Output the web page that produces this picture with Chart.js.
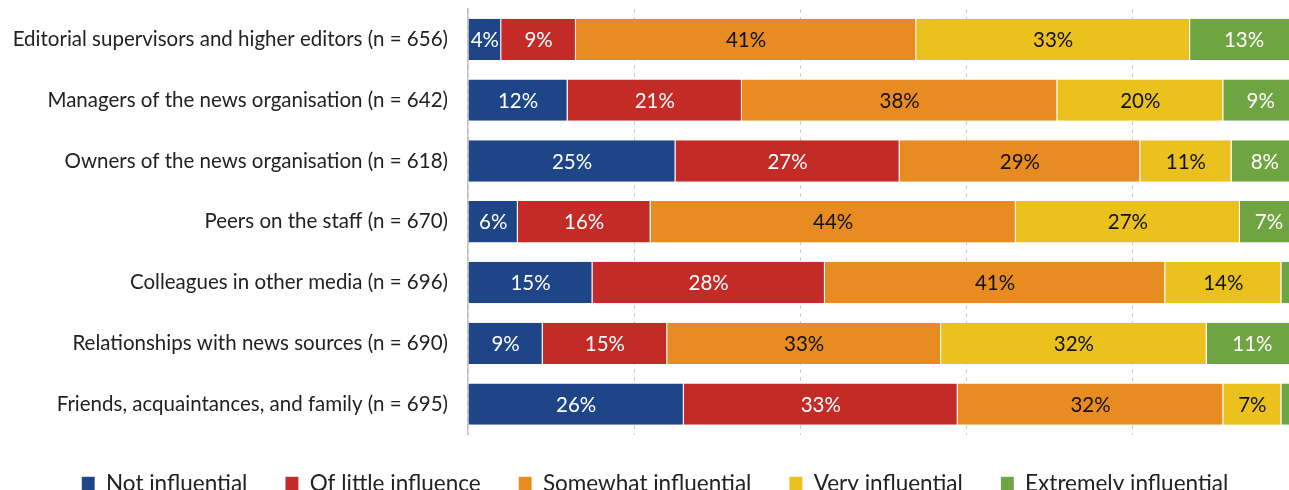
<!DOCTYPE html>
<html>
<head>
<meta charset="utf-8">
<script src="https://cdn.jsdelivr.net/npm/chart.js@4"></script>
<style>
	html, body { margin: 0; padding: 0; background: #fff; overflow: hidden; }
	#wrap { width: 1300px; height: 505px; }
</style>
</head>
<body>
<div id="wrap"><canvas id="influenceChart"></canvas></div>
<script>
const sources = [
	"Editorial supervisors and higher editors (n = 656)",
	"Managers of the news organisation (n = 642)",
	"Owners of the news organisation (n = 618)",
	"Peers on the staff (n = 670)",
	"Colleagues in other media (n = 696)",
	"Relationships with news sources (n = 690)",
	"Friends, acquaintances, and family (n = 695)"
]
const notInfluential = [4, 12, 25, 6, 15, 9, 26]
const littleInfluence = [9, 21, 27, 16, 28, 15, 33]
const somewhatInfluential = [41, 38, 29, 44, 41, 33, 32]
const veryInfluential = [33, 20, 11, 27, 14, 32, 7]
const extremelyInfluential = [13, 9, 8, 7, 2, 11, 2]

const seriesNames = ["Not influential", "Of little influence", "Somewhat influential", "Very influential", "Extremely influential"]
const seriesColors = ["#1f4589", "#c52b26", "#e88c22", "#ebc11e", "#6fa443"]
const textColors = ["#fff", "#fff", "#111", "#111", "#fff"]

const FONT = "Lato, 'Open Sans', sans-serif"

// percent text in the middle of each segment, skipped when the slice is too thin
const segmentLabels = {
	id: "segmentLabels",
	afterDatasetsDraw(chart) {
		const ctx = chart.ctx
		ctx.save()
		ctx.font = "20.5px " + FONT
		ctx.textAlign = "center"
		ctx.textBaseline = "middle"
		chart.data.datasets.forEach((ds, i) => {
			chart.getDatasetMeta(i).data.forEach((bar, j) => {
				const v = ds.data[j]
				if (v < 4) return
				const { x, y, base } = bar.getProps(["x", "y", "base"], true)
				ctx.fillStyle = textColors[i]
				ctx.fillText(v + "%", (x + base) / 2, y + 1)
			})
		})
		ctx.restore()
	}
}

function createStackedChart(labels, series, place) {
	const ctx = place.getContext("2d")

	new Chart(ctx, {
		type: "bar",
		data: {
			labels: labels,
			datasets: series.map((data, i) => ({
				label: seriesNames[i],
				data: data,
				backgroundColor: seriesColors[i],
				borderColor: "rgba(255,255,255,0.55)",
				borderWidth: { right: 1 },
				borderSkipped: "start",
				categoryPercentage: 1,
				barPercentage: 0.68,
			})),
		},
		options: {
			indexAxis: "y",
			responsive: true,
			maintainAspectRatio: false,
			animation: false,
			layout: {
				padding: { top: 9, right: 2, left: 12, bottom: 0 }
			},
			scales: {
				x: {
					stacked: true,
					min: 0,
					max: 100,
					ticks: { display: false, stepSize: 20 },
					grid: { color: "#cfcfcf", drawTicks: false },
					border: { display: false, dash: [4, 4] },
					afterFit(scale) { scale.height = 0 }
				},
				y: {
					stacked: true,
					grid: { display: false, drawTicks: false },
					border: { color: "#c4c4c4", width: 1.5 },
					ticks: {
						color: "#222",
						font: { family: FONT, size: 20.5 },
						padding: 20,
					},
					afterFit(scale) {
						// fixed gutter for the long row names, no extra room above/below
						scale.width = 456
						scale.paddingTop = 0
						scale.paddingBottom = 0
					}
				}
			},
			plugins: {
				tooltip: { enabled: false },
				legend: {
					position: "bottom",
					labels: {
						boxWidth: 13,
						boxHeight: 14,
						padding: 38,
						color: "#222",
						font: { family: FONT, size: 22.5 }
					}
				}
			}
		},
		plugins: [segmentLabels]
	})
}

createStackedChart(sources, [notInfluential, littleInfluence, somewhatInfluential, veryInfluential, extremelyInfluential], document.getElementById("influenceChart"))
</script>
</body>
</html>
